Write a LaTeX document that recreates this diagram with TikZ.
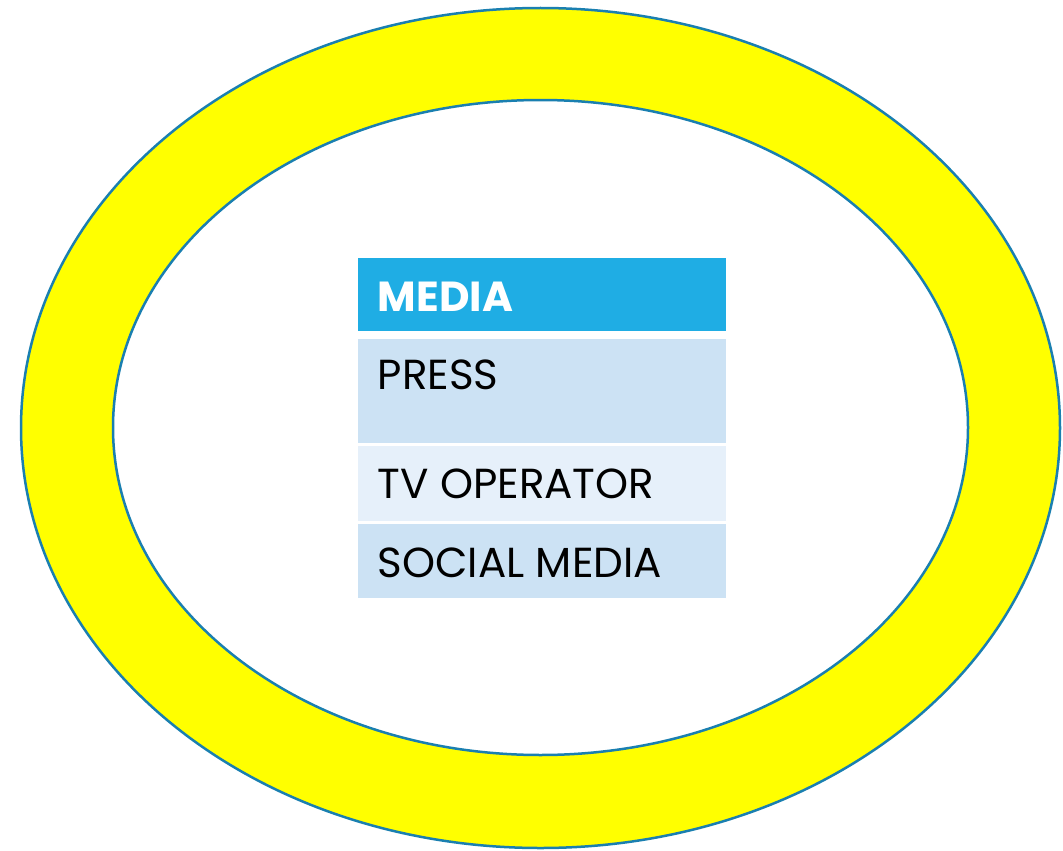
\documentclass[tikz,border=0pt]{standalone}
\usepackage{fontspec}
\setmainfont{Poppins}
\usetikzlibrary{positioning}

\definecolor{ringline}{RGB}{26,127,176}
\definecolor{ringfill}{RGB}{255,255,0}
\definecolor{headblue}{RGB}{31,173,228}
\definecolor{rowblue}{RGB}{204,226,244}
\definecolor{rowpale}{RGB}{230,240,250}

\tikzset{
  rowbox/.style={rectangle, inner sep=0pt, minimum width=367.5pt},
  rowtext/.style={inner sep=0pt, anchor=base west, font=\fontsize{42}{46}\selectfont}
}

\begin{document}
\begin{tikzpicture}[x=1pt, y=-1pt]
        \useasboundingbox (0,0) rectangle (1063,851);

        % ring
        \fill [ringfill, even odd rule] (540.5,428) ellipse [x radius=519.5, y radius=420]
              (540.5,427.5) ellipse [x radius=427.5, y radius=327.5];
        \draw [ringline, line width=2.5pt] (540.5,428) ellipse [x radius=519.5, y radius=420];
        \draw [ringline, line width=2.5pt] (540.5,427.5) ellipse [x radius=427.5, y radius=327.5];

        % table rows
        \node [rowbox, fill=headblue, minimum height=72.4pt] (head) at (541.9,294.5) {};
        \node [rowbox, fill=rowblue, minimum height=103.7pt] (press) at (541.9,390.9) {};
        \node [rowbox, fill=rowpale, minimum height=75.3pt] (tv) at (541.9,483.4) {};
        \node [rowbox, fill=rowblue, minimum height=74.6pt] (social) at (541.9,561) {};

        % row texts
        \node [rowtext, text=white, font=\fontsize{42}{46}\selectfont\bfseries] (headtext) at (377.7,311.7) {MEDIA};
        \node [rowtext] (presstext) at (377.7,389) {PRESS};
        \node [rowtext] (tvtext) at (377.7,498) {TV OPERATOR};
        \node [rowtext] (socialtext) at (377.7,577) {SOCIAL MEDIA};

    \end{tikzpicture}
\end{document}
